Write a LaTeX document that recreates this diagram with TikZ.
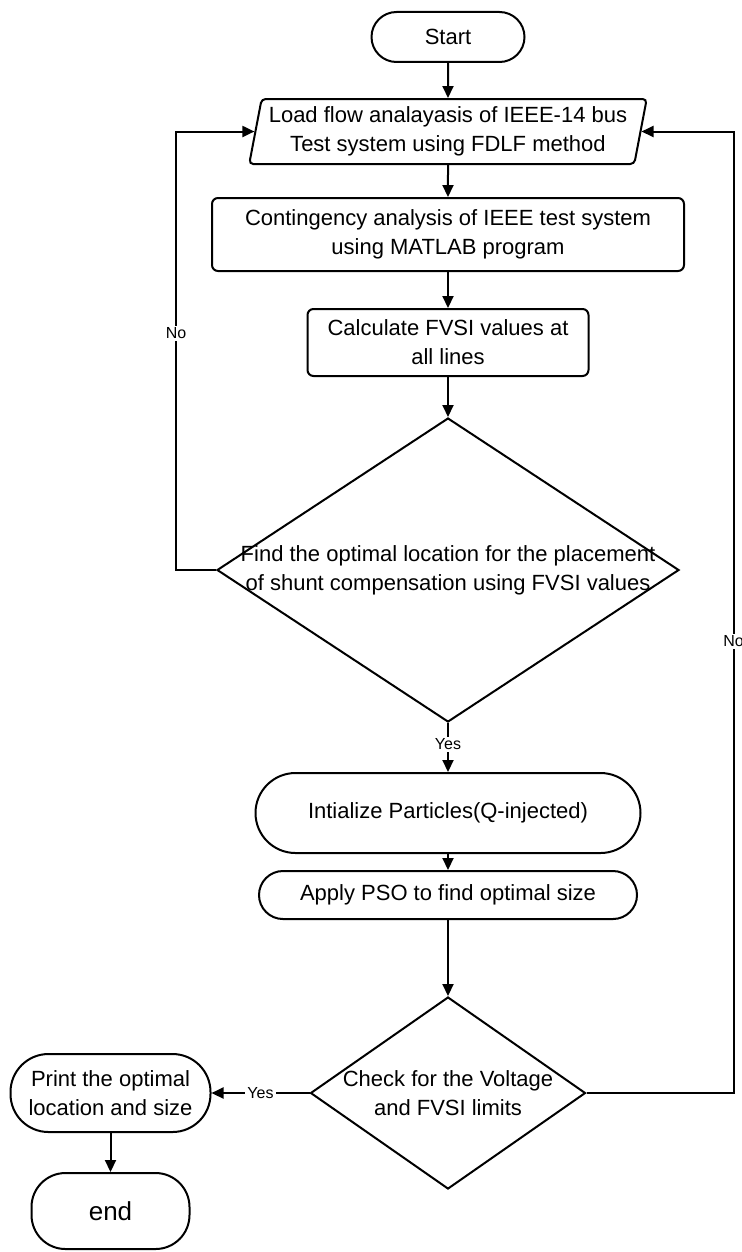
\documentclass[tikz,border=0pt]{standalone}
\usepackage{fontspec}
\setmainfont{Liberation Sans}
\usetikzlibrary{shapes.geometric, arrows.meta, positioning}

\begin{document}
\begin{tikzpicture}[
    node distance=0.5cm,
    >={Triangle[length=6pt,width=5.5pt]},
    txt/.style={align=center, font=\fontsize{11}{14.5}\selectfont},
    term/.style={rectangle, draw, line width=1pt, txt, inner sep=2pt},
    proc/.style={rectangle, draw, line width=1pt, txt, rounded corners=3pt, inner sep=2pt},
    io/.style={trapezium, trapezium left angle=78, trapezium right angle=102, trapezium stretches=true, draw, line width=1pt, txt, rounded corners=2pt, inner sep=2pt},
    decision/.style={diamond, draw, line width=1pt, inner sep=0pt},
    flow/.style={->, line width=1pt},
    tag/.style={font=\fontsize{8}{9}\selectfont, fill=white, inner sep=1pt}
]
\useasboundingbox (0,0) rectangle (370.5pt,-626pt);

% main column
\node[term, minimum width=76.5pt, minimum height=25pt, rounded corners=12.5pt] (start) at (224pt,-18.5pt) {Start};
\node[io, minimum width=199pt, minimum height=32.5pt, below=17.5pt of start] (load) {Load flow analayasis of IEEE-14 bus\\Test system using FDLF method};
\node[proc, minimum width=236pt, minimum height=36.5pt, below=16pt of load] (cont) {Contingency analysis of IEEE test system\\using MATLAB program};
\node[proc, minimum width=140.5pt, minimum height=33.5pt, below=18pt of cont] (calc) {Calculate FVSI values at\\all lines};
\node[decision, minimum width=231pt, minimum height=152pt, below=20pt of calc,
      label={[txt]center:Find the optimal location for the placement\\of  shunt compensation using FVSI values}] (find) {};
\node[term, minimum width=192.5pt, minimum height=40pt, rounded corners=20pt, below=24.5pt of find] (init) {Intialize Particles(Q-injected)};
\node[term, minimum width=189pt, minimum height=24pt, rounded corners=12pt, below=8pt of init] (pso) {Apply PSO to find optimal size};
\node[decision, minimum width=137.5pt, minimum height=96pt, below=38pt of pso,
      label={[txt]center:Check for the Voltage\\and FVSI limits}] (check) {};

% result
\node[term, minimum width=100pt, minimum height=39pt, rounded corners=19pt, left=49pt of check] (print) {Print the optimal\\location and size};
\node[term, minimum width=79pt, minimum height=38pt, rounded corners=17pt, below=19.5pt of print, font=\fontsize{13}{15}\selectfont] (end) {end};

% arrows
\draw[flow] (start) -- (load);
\draw[flow] (load) -- (cont);
\draw[flow] (cont) -- (calc);
\draw[flow] (calc) -- (find);
\draw[flow] (find) -- node[tag, pos=0.43] {Yes} (init);
\draw[flow] (init) -- (pso);
\draw[flow] (pso) -- (check);
\draw[flow] (check) -- node[tag, pos=0.5] {Yes} (print);
\draw[flow] (print) -- (end);

% loops back
\draw[flow] (find.west) -- ++(-20pt,0) |- node[tag, pos=0.27] {No} (load.west);
\draw[flow] (check.east) -- ++(73.5pt,0) |- node[tag, pos=0.235] {No} (load.east);

\end{tikzpicture}
\end{document}
